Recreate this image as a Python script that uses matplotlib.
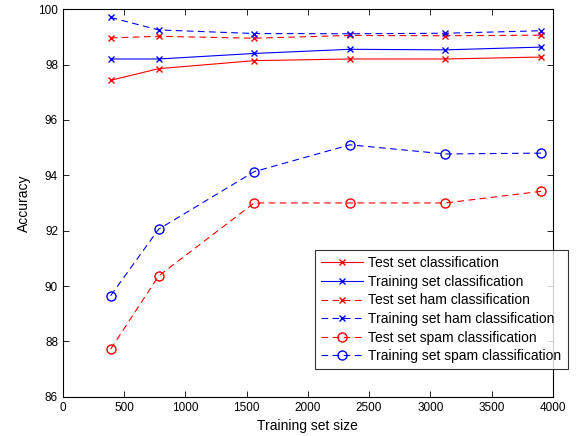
import matplotlib
matplotlib.use('Agg')
import matplotlib.pyplot as plt

plt.rcParams['font.family'] = ['Liberation Sans', 'DejaVu Sans']

sizes = [390, 781, 1562, 2343, 3124, 3905]

test_all = [97.43, 97.85, 98.14, 98.20, 98.20, 98.27]
train_all = [98.20, 98.20, 98.40, 98.55, 98.53, 98.63]
test_ham = [98.96, 99.02, 98.95, 99.05, 99.04, 99.06]
train_ham = [99.70, 99.25, 99.12, 99.11, 99.13, 99.22]
test_spam = [87.72, 90.36, 93.00, 93.00, 93.00, 93.42]
train_spam = [89.65, 92.05, 94.13, 95.10, 94.77, 94.80]

labels = ['Test set classification', 'Training set classification',
          'Test set ham classification', 'Training set ham classification',
          'Test set spam classification', 'Training set spam classification']

fig = plt.figure(figsize=(5.77, 4.36), dpi=100)
ax = fig.add_axes([0.109, 0.090, 0.849, 0.889])

dash = (0, (6, 4))
lw = 0.8
ax.plot(sizes, test_all, color='r', marker='x', ms=5, lw=lw, label=labels[0])
ax.plot(sizes, train_all, color='b', marker='x', ms=5, lw=lw, label=labels[1])
ax.plot(sizes, test_ham, color='r', marker='x', ms=5, lw=lw, ls=dash, label=labels[2])
ax.plot(sizes, train_ham, color='b', marker='x', ms=5, lw=lw, ls=dash, label=labels[3])
ax.plot(sizes, test_spam, color='r', marker='o', ms=6.5, mfc='none', lw=lw, ls=dash, label=labels[4])
ax.plot(sizes, train_spam, color='b', marker='o', ms=6.5, mfc='none', lw=lw, ls=dash, label=labels[5])

ax.set_xlim(0, 4000)
ax.set_ylim(86, 100)
ax.set_xticks(range(0, 4001, 500))
ax.set_yticks(range(86, 101, 2))
ax.tick_params(direction='in', top=True, right=True, labelsize=8.5, length=4, width=0.6)
for s in ax.spines.values():
    s.set_linewidth(0.8)
ax.set_xlabel('Training set size', fontsize=10, labelpad=4)
ax.set_ylabel('Accuracy', fontsize=10, labelpad=5)

leg = fig.legend(loc='upper left', bbox_to_anchor=(315 / 577, 1 - 250 / 436),
                 fontsize=10, frameon=True, fancybox=False, handlelength=3.0,
                 handletextpad=0.4, labelspacing=0.33, borderpad=0.45,
                 borderaxespad=0)
leg.get_frame().set_edgecolor('black')
leg.get_frame().set_linewidth(0.8)

fig.savefig('out.png', dpi=100)
